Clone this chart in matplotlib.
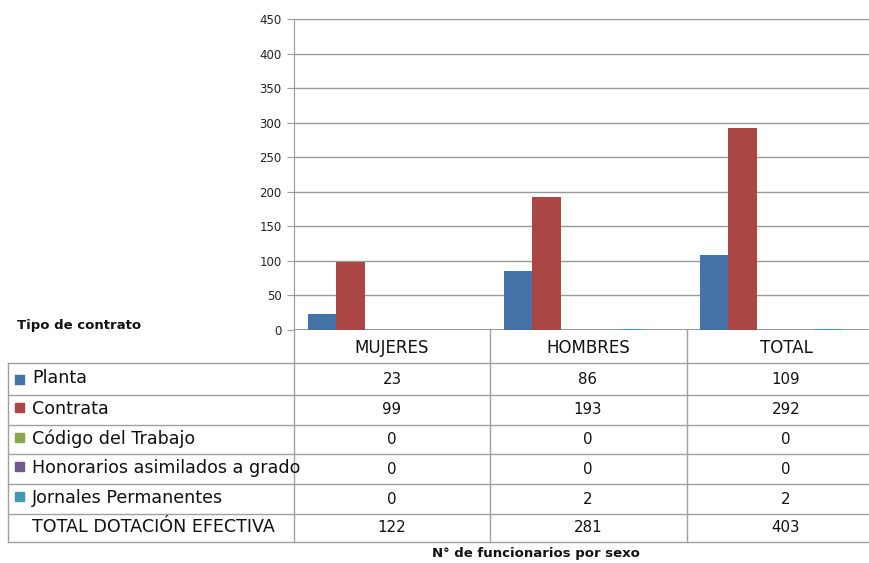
import matplotlib
matplotlib.use("Agg")
import matplotlib.pyplot as plt
from matplotlib.patches import Rectangle
from matplotlib.lines import Line2D
import numpy as np

# -----------------------------------------------------------------------
# Data
# -----------------------------------------------------------------------
categories = ["MUJERES", "HOMBRES", "TOTAL"]
series_names = ["Planta", "Contrata", "Código del Trabajo",
                "Honorarios asimilados a grado", "Jornales Permanentes"]
planta = [23, 86, 109]
contrata = [99, 193, 292]
codigo = [0, 0, 0]
honorarios = [0, 0, 0]
jornales = [0, 2, 2]
total_row = [122, 281, 403]
total_label = "TOTAL DOTACIÓN EFECTIVA"
yticks = [0, 50, 100, 150, 200, 250, 300, 350, 400, 450]

series_values = [planta, contrata, codigo, honorarios, jornales]
colors = ["#4572A7", "#AA4643", "#89A54E", "#71588F", "#4198AF"]

W, H = 870, 563
fig = plt.figure(figsize=(W / 100, H / 100), dpi=100)


def fx(x):
    return x / W


def fy(y):
    return 1 - y / H


# -----------------------------------------------------------------------
# Bar chart
# -----------------------------------------------------------------------
ax_left, ax_top, ax_bottom = 294, 19, 330
cat_px = 196
ax = fig.add_axes([fx(ax_left), fy(ax_bottom), fx(W - ax_left), fy(ax_top) - fy(ax_bottom)])
ax.set_xlim(0, (W - ax_left) / cat_px)
ax.set_ylim(0, 450)

x = np.arange(len(categories))
bar_w = 28.4 / cat_px
start = 14 / cat_px
for i, (vals, c) in enumerate(zip(series_values, colors)):
    ax.bar(x + start + (i + 0.5) * bar_w, vals, width=bar_w, color=c,
           align="center", zorder=3)

ax.set_yticks(yticks)
ax.set_yticklabels([str(t) for t in yticks], fontsize=8.5, color="#222222")
ax.yaxis.grid(True, color="#9a9a9a", linewidth=1.0, zorder=0)
ax.set_xticks([])
for s in ["top", "right", "bottom"]:
    ax.spines[s].set_visible(False)
ax.spines["left"].set_color("#9a9a9a")
ax.tick_params(axis="y", length=5, color="#9a9a9a", pad=4)
ax.axhline(0, color="#8a8a8a", linewidth=1.2, zorder=2)

# -----------------------------------------------------------------------
# Data table
# -----------------------------------------------------------------------
line_c = "#a0a0a0"
row_edges = [363, 395, 425, 454, 484, 514, 542]
col_edges = [490, 687]
col_centers = [392, 588, 786]

for y in row_edges:
    fig.add_artist(Line2D([fx(8), fx(W)], [fy(y), fy(y)], color=line_c, lw=1.0))
fig.add_artist(Line2D([fx(8), fx(8)], [fy(363), fy(542)], color=line_c, lw=1.0))
fig.add_artist(Line2D([fx(294), fx(294)], [fy(330), fy(542)], color=line_c, lw=1.0))
for xc in col_edges:
    fig.add_artist(Line2D([fx(xc), fx(xc)], [fy(330), fy(542)], color=line_c, lw=1.0))

for cat, xc in zip(categories, col_centers):
    fig.text(fx(xc), fy(348), cat, ha="center", va="center", fontsize=12, color="#111111")

row_labels = series_names + [total_label]
row_vals = series_values + [total_row]
for r, (lab, vals) in enumerate(zip(row_labels, row_vals)):
    yc = (row_edges[r] + row_edges[r + 1]) / 2
    if r < len(colors):
        sq_y = yc + 5 if r == 0 else yc + 2
        fig.add_artist(Rectangle((fx(15), fy(sq_y)), fx(9) - fx(0), fy(0) - fy(9),
                                 color=colors[r], transform=fig.transFigure))
    fig.text(fx(32), fy(yc - 1), lab, ha="left", va="center", fontsize=12.6, color="#111111")
    for v, xc in zip(vals, col_centers):
        fig.text(fx(xc), fy(yc), str(v), ha="center", va="center", fontsize=10.8, color="#111111")

fig.text(fx(17), fy(325), "Tipo de contrato", ha="left", va="center",
         fontsize=9.5, fontweight="bold", color="#111111")
fig.text(fx(536), fy(553), "N° de funcionarios por sexo", ha="center", va="center",
         fontsize=9.5, fontweight="bold", color="#111111")

fig.savefig("out.png", dpi=100)
